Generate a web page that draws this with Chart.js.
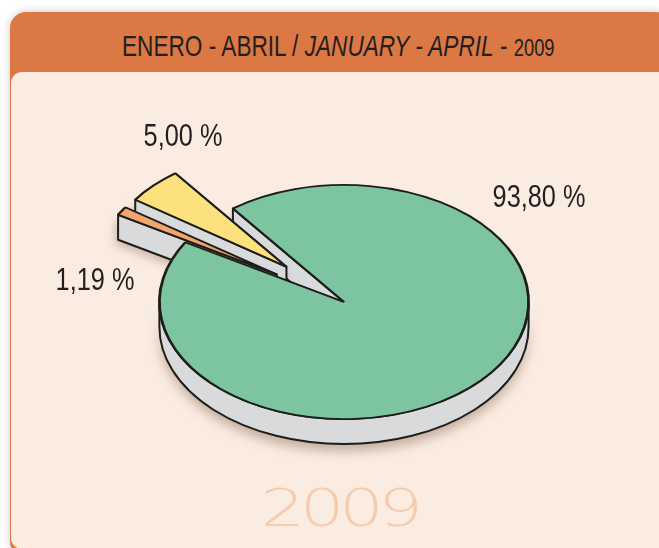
<!DOCTYPE html>
<html><head><meta charset="utf-8"><title>Enero - Abril 2009</title>
<script src="https://cdn.jsdelivr.net/npm/chart.js"></script>
<style>
html,body{margin:0;padding:0;background:#fff;}
body{width:659px;height:548px;position:relative;overflow:hidden;font-family:'Liberation Sans',Arial,sans-serif;}
#card{position:absolute;left:10px;top:12px;width:662px;height:545px;background:#dc7843;border-radius:16px;box-shadow:0 0 9px rgba(0,0,0,0.22);}
#panel{position:absolute;left:11px;top:72px;width:662px;height:477px;background:#fbece2;border-radius:11px 0 0 11px;}
#title{position:absolute;left:122px;top:32px;font-size:29px;line-height:29px;color:#231f20;white-space:nowrap;transform:scaleX(0.78);transform-origin:0 0;}
#title small{font-size:23.5px;}
canvas{position:absolute;left:0;top:0;}
</style></head>
<body>
<div id="card"></div>
<div id="panel"></div>
<div id="title">ENERO - ABRIL / <i>JANUARY - APRIL</i> - <small>2009</small></div>
<canvas id="pie" width="659" height="548"></canvas>
<script>
// ---- data ----
const categories = ['Segmento 1', 'Segmento 2', 'Segmento 3'];
const values = [93.80, 1.19, 5.00];
const year = '2009';

// ---- look ----
const COLORS = ['#7dc4a0', '#f3a56e', '#fde17c'];
const SIDE_COLOR = '#d9dadc';
const LINE_COLOR = '#1d1d1b';
const TILT = 0.634;     // vertical squash of the disc
const DEPTH = 25;       // thickness in px
const EXPLODE = [0, 80, 80];
const LABEL_AT = [[539, 207], [95, 290], [183, 146]];
const DRAW_ORDER = [[0, 'side'], [2, 'side'], [2, 'top'], [1, 'side'], [1, 'top'], [0, 'top']];

const fmt = v => v.toFixed(2).replace('.', ',') + ' %';

const pie3d = {
  id: 'pie3d',
  beforeDatasetsDraw(chart) {
    const ctx = chart.ctx;
    const arcs = chart.getDatasetMeta(0).data;
    const cx = arcs[0].x, cy = arcs[0].y;
    const pt = (u, v) => [cx + u, cy + v * TILT];
    const geo = arcs.map((a, i) => {
      const m = (a.startAngle + a.endAngle) / 2;
      return { a, ex: Math.cos(m) * EXPLODE[i], ey: Math.sin(m) * EXPLODE[i], r: a.outerRadius };
    });

    function side(g) {
      const { a, ex, ey, r } = g;
      const [ox, oy] = pt(ex, ey);
      ctx.save();
      ctx.fillStyle = SIDE_COLOR;
      ctx.strokeStyle = LINE_COLOR;
      ctx.lineWidth = 2;
      ctx.lineJoin = 'round';
      // cut faces that look toward the viewer
      [[a.startAngle, -1], [a.endAngle, 1]].forEach(([ang, dir]) => {
        if (dir * Math.cos(ang) <= 0) return;
        const [x1, y1] = pt(ex + r * Math.cos(ang), ey + r * Math.sin(ang));
        ctx.beginPath();
        ctx.moveTo(ox, oy); ctx.lineTo(x1, y1);
        ctx.lineTo(x1, y1 + DEPTH); ctx.lineTo(ox, oy + DEPTH);
        ctx.closePath();
        ctx.save();
        ctx.shadowColor = 'rgba(90,55,30,0.28)'; ctx.shadowBlur = 10; ctx.shadowOffsetX = -3; ctx.shadowOffsetY = 5;
        ctx.fill();
        ctx.restore();
        ctx.stroke();
      });
      // outer rim, only the front half shows
      for (let n = -1; n <= 2; n++) {
        const lo = Math.max(a.startAngle, n * 2 * Math.PI);
        const hi = Math.min(a.endAngle, n * 2 * Math.PI + Math.PI);
        if (hi <= lo) continue;
        ctx.beginPath();
        ctx.ellipse(ox, oy, r, r * TILT, 0, lo, hi);
        ctx.ellipse(ox, oy + DEPTH, r, r * TILT, 0, hi, lo, true);
        ctx.closePath();
        ctx.save();
        ctx.shadowColor = 'rgba(90,55,30,0.35)'; ctx.shadowBlur = 12; ctx.shadowOffsetY = 7;
        ctx.fill();
        ctx.restore();
        ctx.stroke();
      }
      ctx.restore();
    }

    function top(g) {
      ctx.save();
      ctx.translate(cx + g.ex, cy + g.ey * TILT);
      ctx.scale(1, TILT);
      ctx.translate(-cx, -cy);
      g.a.draw(ctx);
      ctx.restore();
    }

    DRAW_ORDER.forEach(([i, part]) => part === 'side' ? side(geo[i]) : top(geo[i]));
    return false;
  },
  afterDraw(chart) {
    const ctx = chart.ctx;
    ctx.save();
    ctx.textAlign = 'center';
    ctx.textBaseline = 'alphabetic';
    ctx.fillStyle = '#231f20';
    ctx.font = '30.5px "Liberation Sans", Arial, sans-serif';
    values.forEach((v, i) => {
      ctx.save();
      ctx.translate(LABEL_AT[i][0], LABEL_AT[i][1]);
      ctx.scale(0.83, 1);
      ctx.fillText(fmt(v), 0, 0);
      ctx.restore();
    });
    // faint year watermark
    ctx.fillStyle = '#f4cdb0';
    ctx.font = '200 51px "DejaVu Sans", sans-serif';
    ctx.letterSpacing = '-4px';
    ctx.translate(339, 526);
    ctx.scale(1.38, 1);
    ctx.fillText(year, 0, 0);
    ctx.restore();
  }
};

new Chart(document.getElementById('pie'), {
  type: 'pie',
  data: {
    labels: categories,
    datasets: [{
      data: values,
      backgroundColor: COLORS,
      borderColor: LINE_COLOR,
      borderWidth: 2.8,
      offset: 0,
      hoverOffset: 0
    }]
  },
  options: {
    responsive: false,
    animation: false,
    rotation: -37,
    layout: { padding: { left: 158, right: 129, top: 116, bottom: 60 } },
    plugins: { legend: { display: false }, tooltip: { enabled: false } },
    events: []
  },
  plugins: [pie3d]
});
</script>
</body></html>
